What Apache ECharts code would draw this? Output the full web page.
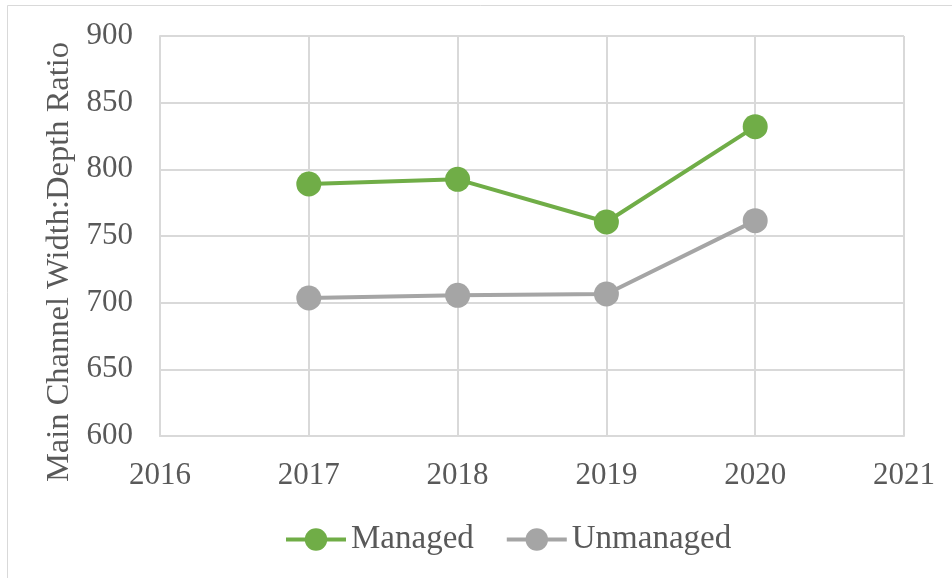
<!DOCTYPE html>
<html><head><meta charset="utf-8">
<script src="https://cdn.jsdelivr.net/npm/echarts@6/dist/echarts.min.js"></script>
<style>html,body{margin:0;padding:0;background:#fff}#c{width:952px;height:578px}</style>
</head><body><div id="c"></div>
<script>
const years = [2017, 2018, 2019, 2020];
const managed = [789, 792.5, 760.5, 832];
const unmanaged = [703.5, 705.5, 706.5, 761.5];
const xTicks = [2016, 2017, 2018, 2019, 2020, 2021];
const yTicks = [600, 650, 700, 750, 800, 850, 900];

const font = "'Liberation Serif', 'Times New Roman', serif";
const chart = echarts.init(document.getElementById('c'), null, {renderer: 'canvas'});
chart.setOption({
  animation: false,
  backgroundColor: '#fff',
  graphic: [{type: 'rect', shape: {x: 7.5, y: 5.5, width: 1000, height: 700}, style: {fill: 'none', stroke: '#D9D9D9', lineWidth: 1}, silent: true}],
  grid: {left: 160, right: 48, top: 36, bottom: 142, containLabel: false},
  xAxis: {
    type: 'value', min: xTicks[0], max: xTicks[xTicks.length - 1], interval: 1,
    axisLine: {show: true, lineStyle: {color: '#D9D9D9', width: 2}},
    axisTick: {show: false},
    splitLine: {show: true, lineStyle: {color: '#D9D9D9', width: 2}},
    axisLabel: {color: '#595959', fontFamily: font, fontSize: 31, margin: 24, formatter: v => String(v)}
  },
  yAxis: {
    type: 'value', min: yTicks[0], max: yTicks[yTicks.length - 1], interval: 50,
    name: 'Main Channel Width:Depth Ratio', nameLocation: 'middle', nameGap: 83,
    nameTextStyle: {color: '#595959', fontFamily: font, fontSize: 32.5, padding: [0, 52, 0, 0]},
    axisLine: {show: true, lineStyle: {color: '#D9D9D9', width: 2}},
    axisTick: {show: false},
    splitLine: {show: true, lineStyle: {color: '#D9D9D9', width: 2}},
    axisLabel: {color: '#595959', fontFamily: font, fontSize: 31, margin: 27}
  },
  legend: {
    bottom: 22, left: 284, padding: 0, itemWidth: 60, itemHeight: 28, itemGap: 31,
    textStyle: {color: '#595959', fontFamily: font, fontSize: 33},
    lineStyle: {width: 4},
    data: ['Managed', 'Unmanaged']
  },
  series: [
    {name: 'Managed', type: 'line', data: years.map((y, i) => [y, managed[i]]),
     symbol: 'circle', symbolSize: 25, itemStyle: {color: '#70AD47'}, lineStyle: {color: '#70AD47', width: 4}},
    {name: 'Unmanaged', type: 'line', data: years.map((y, i) => [y, unmanaged[i]]),
     symbol: 'circle', symbolSize: 25, itemStyle: {color: '#A5A5A5'}, lineStyle: {color: '#A5A5A5', width: 4}}
  ]
});
</script></body></html>
